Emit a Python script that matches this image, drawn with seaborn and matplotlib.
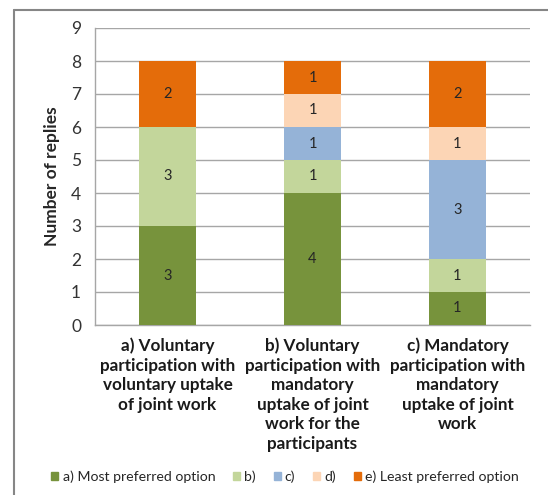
import numpy as np
import matplotlib
matplotlib.use("Agg")
import matplotlib.pyplot as plt
import matplotlib.patches as mpatches
from matplotlib.lines import Line2D
import seaborn as sns

# data
categories = ['a) Voluntary\nparticipation with\nvoluntary uptake\nof joint work',
              'b) Voluntary\nparticipation with\nmandatory\nuptake of joint\nwork for the\nparticipants',
              'c) Mandatory\nparticipation with\nmandatory\nuptake of joint\nwork']
options = ['a) Most preferred option', 'b)', 'c)', 'd)', 'e) Least preferred option']
opt_a = [3, 4, 1]
opt_b = [3, 1, 1]
opt_c = [0, 1, 3]
opt_d = [0, 1, 1]
opt_e = [2, 1, 2]
colors = ['#77933C', '#C3D69B', '#95B3D7', '#FCD5B5', '#E46C0A']

sns.set_style('white')
plt.rcParams['font.family'] = ['Lato', 'DejaVu Sans']

series = np.array([opt_a, opt_b, opt_c, opt_d, opt_e])
cum = series.cumsum(axis=0)
idx = list(range(len(categories)))

fig = plt.figure(figsize=(5.48, 4.95), dpi=100)
ax = fig.add_axes([95/548, 1-325/495, 435/548, 297/495])

# stacked bars: draw cumulative totals from the top down
for i in reversed(range(len(options))):
    sns.barplot(x=idx, y=cum[i], color=colors[i], width=0.39, saturation=1,
                ax=ax, zorder=3, linewidth=0)

# data labels
for i in range(len(options)):
    for j in idx:
        v = series[i, j]
        if v > 0:
            ax.text(j, cum[i, j] - v / 2, str(v), ha='center', va='center',
                    fontsize=10.5, color='#262626', zorder=4)

ax.set_ylim(0, 9)
ax.set_xlim(-0.5, 2.5)
ax.set_yticks(range(10))
ax.yaxis.grid(True, color='#A6A6A6', linewidth=1, zorder=0)
ax.set_xticks(idx)
ax.set_xticklabels(categories, fontweight='bold', fontsize=12.3, linespacing=1.27,
                   color='#1a1a1a')
ax.set_xticks([-0.5, 0.5, 1.5, 2.5], minor=True)
ax.tick_params(axis='x', which='major', length=0, pad=9)
ax.tick_params(axis='x', which='minor', length=4, color='#A6A6A6', width=1)
ax.tick_params(axis='y', length=6, color='#A6A6A6', width=1, labelsize=12.5,
               labelcolor='#333333', pad=4)
for lab in ax.get_xticklabels():
    lab.set_verticalalignment('top')
    lab.set_multialignment('center')
ax.set_ylabel('Number of replies', fontweight='bold', fontsize=12.5, labelpad=8)
ax.set_xlabel('')
for s in ['top', 'right']:
    ax.spines[s].set_visible(False)
for s in ['left', 'bottom']:
    ax.spines[s].set_color('#A6A6A6')
    ax.spines[s].set_linewidth(1)

handles = [mpatches.Patch(color=c, label=o) for c, o in zip(colors, options)]
fig.legend(handles=handles, loc='center', bbox_to_anchor=(285/548, 1-477/495),
           ncol=5, frameon=False, fontsize=10.2, handlelength=0.5, handleheight=0.5,
           handletextpad=0.3, columnspacing=1.25)

# outer chart frame
fig.add_artist(Line2D([14/548, 1], [1-10/495, 1-10/495], color='#868686', linewidth=1.5,
                      transform=fig.transFigure))
fig.add_artist(Line2D([14/548, 14/548], [0, 1-10/495], color='#868686', linewidth=1.5,
                      transform=fig.transFigure))

fig.savefig('out.png', dpi=100)
